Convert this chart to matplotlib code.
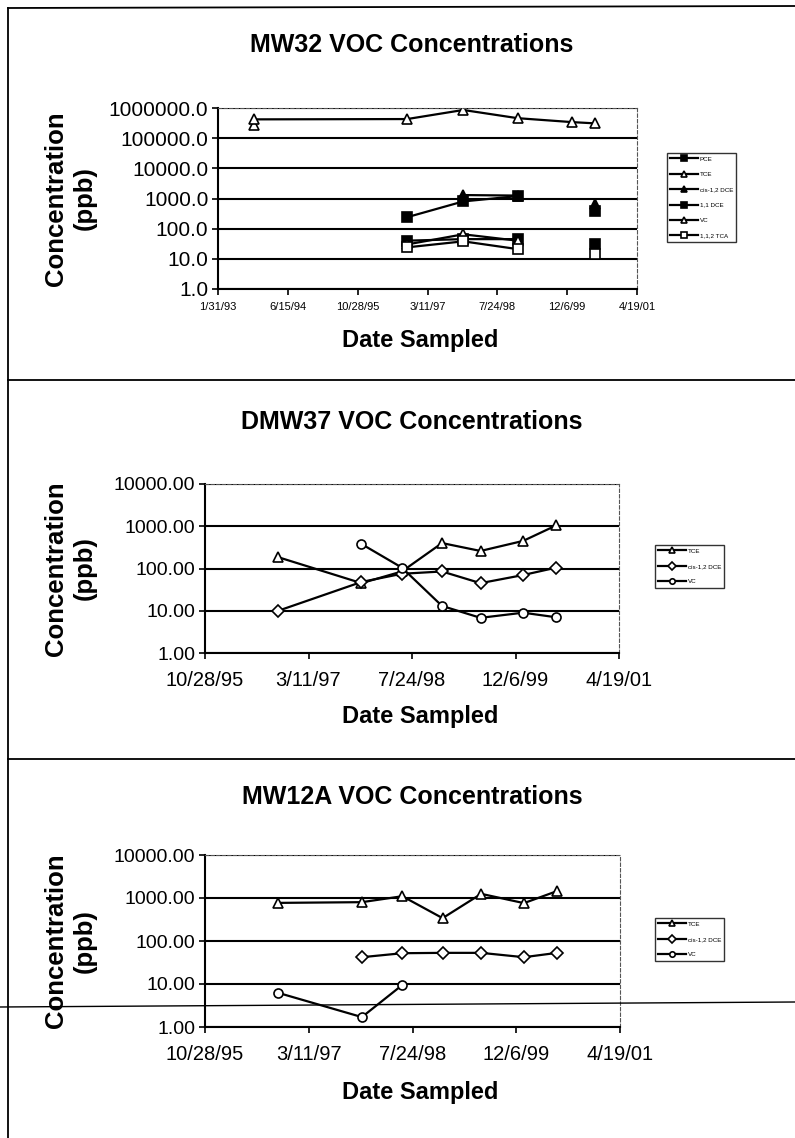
import datetime as dt
import numpy as np
import matplotlib
matplotlib.use("Agg")
import matplotlib.pyplot as plt
import matplotlib.dates as mdates
from matplotlib.lines import Line2D
from matplotlib.ticker import FixedLocator, FuncFormatter, NullLocator

plt.rcParams['font.family'] = ['Liberation Sans', 'DejaVu Sans']

nan = np.nan
D = dt.date

# ---- MW32 ----
mw32_dates = [D(1993, 10, 16), D(1993, 10, 16), D(1996, 10, 16), D(1997, 11, 22),
              D(1998, 12, 16), D(2000, 1, 12), D(2000, 6, 20)]
mw32_pce = [nan, nan, 40, 45, 45, nan, 30]
mw32_tce = [270000, 420000, 430000, 860000, 460000, 340000, 310000]
mw32_cis = [nan, nan, nan, 1300, 1250, nan, 650]
mw32_11dce = [nan, nan, 240, 800, 1200, nan, 400]
mw32_vc = [nan, nan, 30, 65, 40, nan, nan]
mw32_tca = [nan, nan, 24, 38, 21, nan, 15]

# ---- DMW37 ----
dmw37_dates = [D(1996, 10, 16), D(1997, 11, 22), D(1998, 6, 5), D(1998, 12, 16),
               D(1999, 6, 20), D(2000, 1, 12), D(2000, 6, 20)]
dmw37_tce = [185, 45, 85, 400, 260, 450, 1050]
dmw37_cis = [10, 48, 75, 85, 45, 70, 105]
dmw37_vc = [nan, 380, 105, 13, 6.8, 9, 7]

# ---- MW12A ----
mw12a_dates = dmw37_dates
mw12a_tce = [770, 800, 1100, 340, 1250, 760, 1450]
mw12a_cis = [nan, 42, 52, 53, 53, 42, 53]
mw12a_vc = [6.2, 1.7, 9.5, nan, nan, nan, nan]

W, H = 795, 1138
fig = plt.figure(figsize=(W / 100, H / 100), dpi=100)


def box(l, t, r, b):
    return [l / W, 1 - b / H, (r - l) / W, (b - t) / H]


def date_fmt(x, pos):
    d = mdates.num2date(x)
    return f"{d.month}/{d.day}/{d:%y}"


def make_panel(rect, title, start, nticks, ymax, yfmt, yfs, xfs, xpad, series,
               leg_xy, title_y, xlab_y):
    ax = fig.add_axes(box(*rect))
    for dates, vals, mk, mfc, lab in series:
        ax.plot(dates, vals, color='black', lw=1.6, marker=mk, ms=6.5,
                mfc=mfc, mec='black', mew=1.2, label=lab)
    ax.set_yscale('log')
    ax.set_ylim(1, ymax)
    t0 = mdates.date2num(start)
    xt = [t0 + 500 * i for i in range(nticks)]
    ax.set_xlim(xt[0], xt[-1])
    ax.xaxis.set_major_locator(FixedLocator(xt))
    ax.xaxis.set_major_formatter(FuncFormatter(date_fmt))
    ax.xaxis.set_minor_locator(NullLocator())
    decs = [10.0 ** k for k in range(int(round(np.log10(ymax))) + 1)]
    ax.yaxis.set_major_locator(FixedLocator(decs))
    ax.yaxis.set_major_formatter(FuncFormatter(lambda v, p: yfmt % v))
    ax.yaxis.set_minor_locator(NullLocator())
    ax.grid(axis='y', color='black', lw=1.5)
    ax.tick_params(axis='y', labelsize=yfs, length=4, width=1.2, pad=3)
    ax.tick_params(axis='x', labelsize=xfs, length=4, width=1.2, pad=xpad)
    for s in ['left', 'bottom']:
        ax.spines[s].set_linewidth(1.5)
    for s in ['top', 'right']:
        ax.spines[s].set_linestyle((0, (3, 2)))
        ax.spines[s].set_linewidth(0.8)
        ax.spines[s].set_color('#555555')
    fig.text(412 / W, 1 - title_y / H, title, ha='center', va='center',
             fontsize=18, fontweight='bold')
    fig.text(420 / W, 1 - xlab_y / H, 'Date Sampled', ha='center', va='center',
             fontsize=17, fontweight='bold')
    cy = 1 - (rect[1] + rect[3]) / 2 / H
    fig.text(70 / W, cy, 'Concentration\n(ppb)', ha='center', va='center',
             rotation=90, fontsize=18.5, fontweight='bold', linespacing=1.25)
    leg = fig.legend(*ax.get_legend_handles_labels(), loc='upper left',
                     bbox_to_anchor=(leg_xy[0] / W, 1 - leg_xy[1] / H),
                     fontsize=4.5, frameon=True, fancybox=False,
                     edgecolor='black', handlelength=4.5, markerscale=0.6,
                     borderpad=0.5, labelspacing=1.6, handletextpad=0.2)
    leg.get_frame().set_linewidth(1.0)
    return ax


make_panel((218, 108, 637, 289), 'MW32 VOC Concentrations', D(1993, 1, 31), 7, 1e6,
           '%.1f', 15, 8, 5,
           [(mw32_dates, mw32_pce, 's', 'black', 'PCE'),
            (mw32_dates, mw32_tce, '^', 'white', 'TCE'),
            (mw32_dates, mw32_cis, '^', 'black', 'cis-1,2 DCE'),
            (mw32_dates, mw32_11dce, 's', 'black', '1,1 DCE'),
            (mw32_dates, mw32_vc, '^', 'white', 'VC'),
            (mw32_dates, mw32_tca, 's', 'white', '1,1,2 TCA')],
           (664, 150), 45, 340)

make_panel((205, 484, 619, 653), 'DMW37 VOC Concentrations', D(1995, 10, 28), 5, 1e4,
           '%.2f', 14, 14.5, 9,
           [(dmw37_dates, dmw37_tce, '^', 'white', 'TCE'),
            (dmw37_dates, dmw37_cis, 'D', 'white', 'cis-1,2 DCE'),
            (dmw37_dates, dmw37_vc, 'o', 'white', 'VC')],
           (652, 542), 422, 717)

make_panel((205, 855, 620, 1027), 'MW12A VOC Concentrations', D(1995, 10, 28), 5, 1e4,
           '%.2f', 14, 14.5, 9,
           [(mw12a_dates, mw12a_tce, '^', 'white', 'TCE'),
            (mw12a_dates, mw12a_cis, 'D', 'white', 'cis-1,2 DCE'),
            (mw12a_dates, mw12a_vc, 'o', 'white', 'VC')],
           (652, 915), 797, 1093)


# page frame lines from the scanned document
def page_line(x0, y0, x1, y1, lw=1.3):
    fig.add_artist(Line2D([x0 / W, x1 / W], [1 - y0 / H, 1 - y1 / H],
                          transform=fig.transFigure, color='black', lw=lw))


page_line(8, 8, 795, 6)
page_line(8, 8, 8, 1138)
page_line(8, 380, 795, 380)
page_line(8, 759, 795, 759)
page_line(0, 1007, 795, 1002, lw=1.0)

fig.savefig('out.png', dpi=100)
